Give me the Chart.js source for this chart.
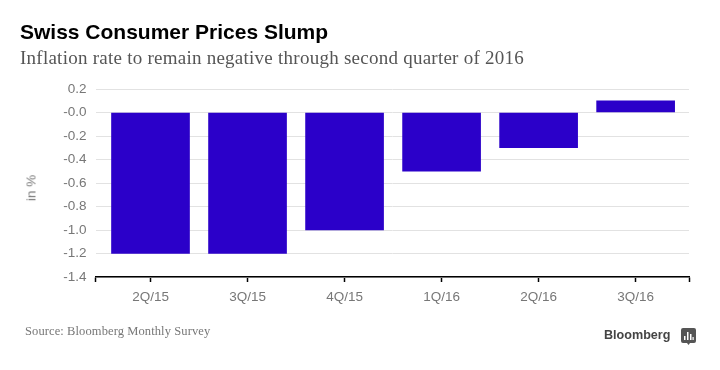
<!DOCTYPE html>
<html>
<head>
<meta charset="utf-8">
<title>Swiss Consumer Prices Slump</title>
<script src="https://cdn.jsdelivr.net/npm/chart.js@4"></script>
<style>
  html, body { margin: 0; padding: 0; background: #fff; }
  #wrap { position: relative; width: 720px; height: 370px; overflow: hidden; }
  #wrap canvas { position: absolute; left: 0; top: 0; }
  .txt { position: absolute; white-space: nowrap; }
  #title { left: 20px; top: 20px; font: bold 21px "Liberation Sans", sans-serif; color: #000; }
  #sub { left: 20px; top: 47px; font: 19px "Liberation Serif", serif; letter-spacing: 0.25px; color: #555; }
  #source { left: 25px; top: 324px; font: 12.5px "Liberation Serif", serif; letter-spacing: 0.1px; color: #777; }
  #brand { left: 604px; top: 328px; font: bold 12.6px "Liberation Sans", sans-serif; color: #444; }
  #unit { left: 31px; top: 188px; font: 13.5px "Liberation Sans", sans-serif; color: #777; transform: translate(-50%, -50%) rotate(-90deg); }
  #logo { position: absolute; left: 681px; top: 328px; }
</style>
</head>
<body>
<div id="wrap">
  <canvas id="chart" width="720" height="370"></canvas>
  <div class="txt" id="title">Swiss Consumer Prices Slump</div>
  <div class="txt" id="sub">Inflation rate to remain negative through second quarter of 2016</div>
  <div class="txt" id="unit">in %</div>
  <div class="txt" id="source">Source: Bloomberg Monthly Survey</div>
  <div class="txt" id="brand">Bloomberg</div>
  <svg id="logo" width="15" height="17" viewBox="0 0 15 17">
    <path d="M2 0h11a2 2 0 0 1 2 2v11a2 2 0 0 1-2 2h-4l-1.500 2-1.500-2h-4a2 2 0 0 1-2-2v-11a2 2 0 0 1 2-2z" fill="#555"/>
    <path d="M3 8h1.500v4h-1.500zM6 4h1.500v8h-1.500zM9 6h1.500v6h-1.500zM11.500 9h1.200v3h-1.200z" fill="#fff"/>
  </svg>
</div>
<script>
// data
const categories = ["2Q/15", "3Q/15", "4Q/15", "1Q/16", "2Q/16", "3Q/16"];
const inflation = [-1.2, -1.2, -1.0, -0.5, -0.3, 0.1];
// bottom to top, same order chart.js builds the ticks
const yTickLabels = ["-1.4", "-1.2", "-1.0", "-0.8", "-0.6", "-0.4", "-0.2", "-0.0", "0.2"];

const grey = "#777";
const tickFont = { family: "Liberation Sans", size: 13.5 };

new Chart(document.getElementById("chart"), {
  type: "bar",
  data: {
    datasets: [{
      data: categories.map((c, i) => ({ x: i, y: inflation[i] })),
      backgroundColor: "#2b00c9",
      barThickness: 78
    }]
  },
  options: {
    responsive: false,
    animation: false,
    layout: { padding: { top: 89, right: 31, left: 24, bottom: 0 } },
    plugins: { legend: { display: false }, tooltip: { enabled: false } },
    scales: {
      // linear so the axis can run a bit past the outer categories, like the original
      x: {
        type: "linear",
        offset: false,
        min: -0.567,
        max: 5.55,
        // one tick per category plus one at each end of the axis
        afterBuildTicks: (s) => {
          s.ticks = [s.min, ...categories.map((c, i) => i), s.max].map((value) => ({ value }));
        },
        afterFit: (s) => { s.height = 93; },
        border: { color: "#000", width: 1.5 },
        grid: { offset: false, drawOnChartArea: false, tickLength: 5, tickColor: "#000", tickWidth: 1.5 },
        ticks: {
          autoSkip: false,
          maxRotation: 0,
          padding: 7,
          color: grey,
          font: tickFont,
          callback: (v) => Number.isInteger(v) ? categories[v] : ""
        }
      },
      y: {
        min: -1.4,
        max: 0.2,
        afterFit: (s) => { s.width = 71.5; },
        border: { display: false },
        grid: { color: "#e2e2e2", drawTicks: false },
        ticks: {
          stepSize: 0.2,
          padding: 9,
          color: grey,
          font: tickFont,
          callback: (v, i) => yTickLabels[i]
        }
      }
    }
  }
});
</script>
</body>
</html>
